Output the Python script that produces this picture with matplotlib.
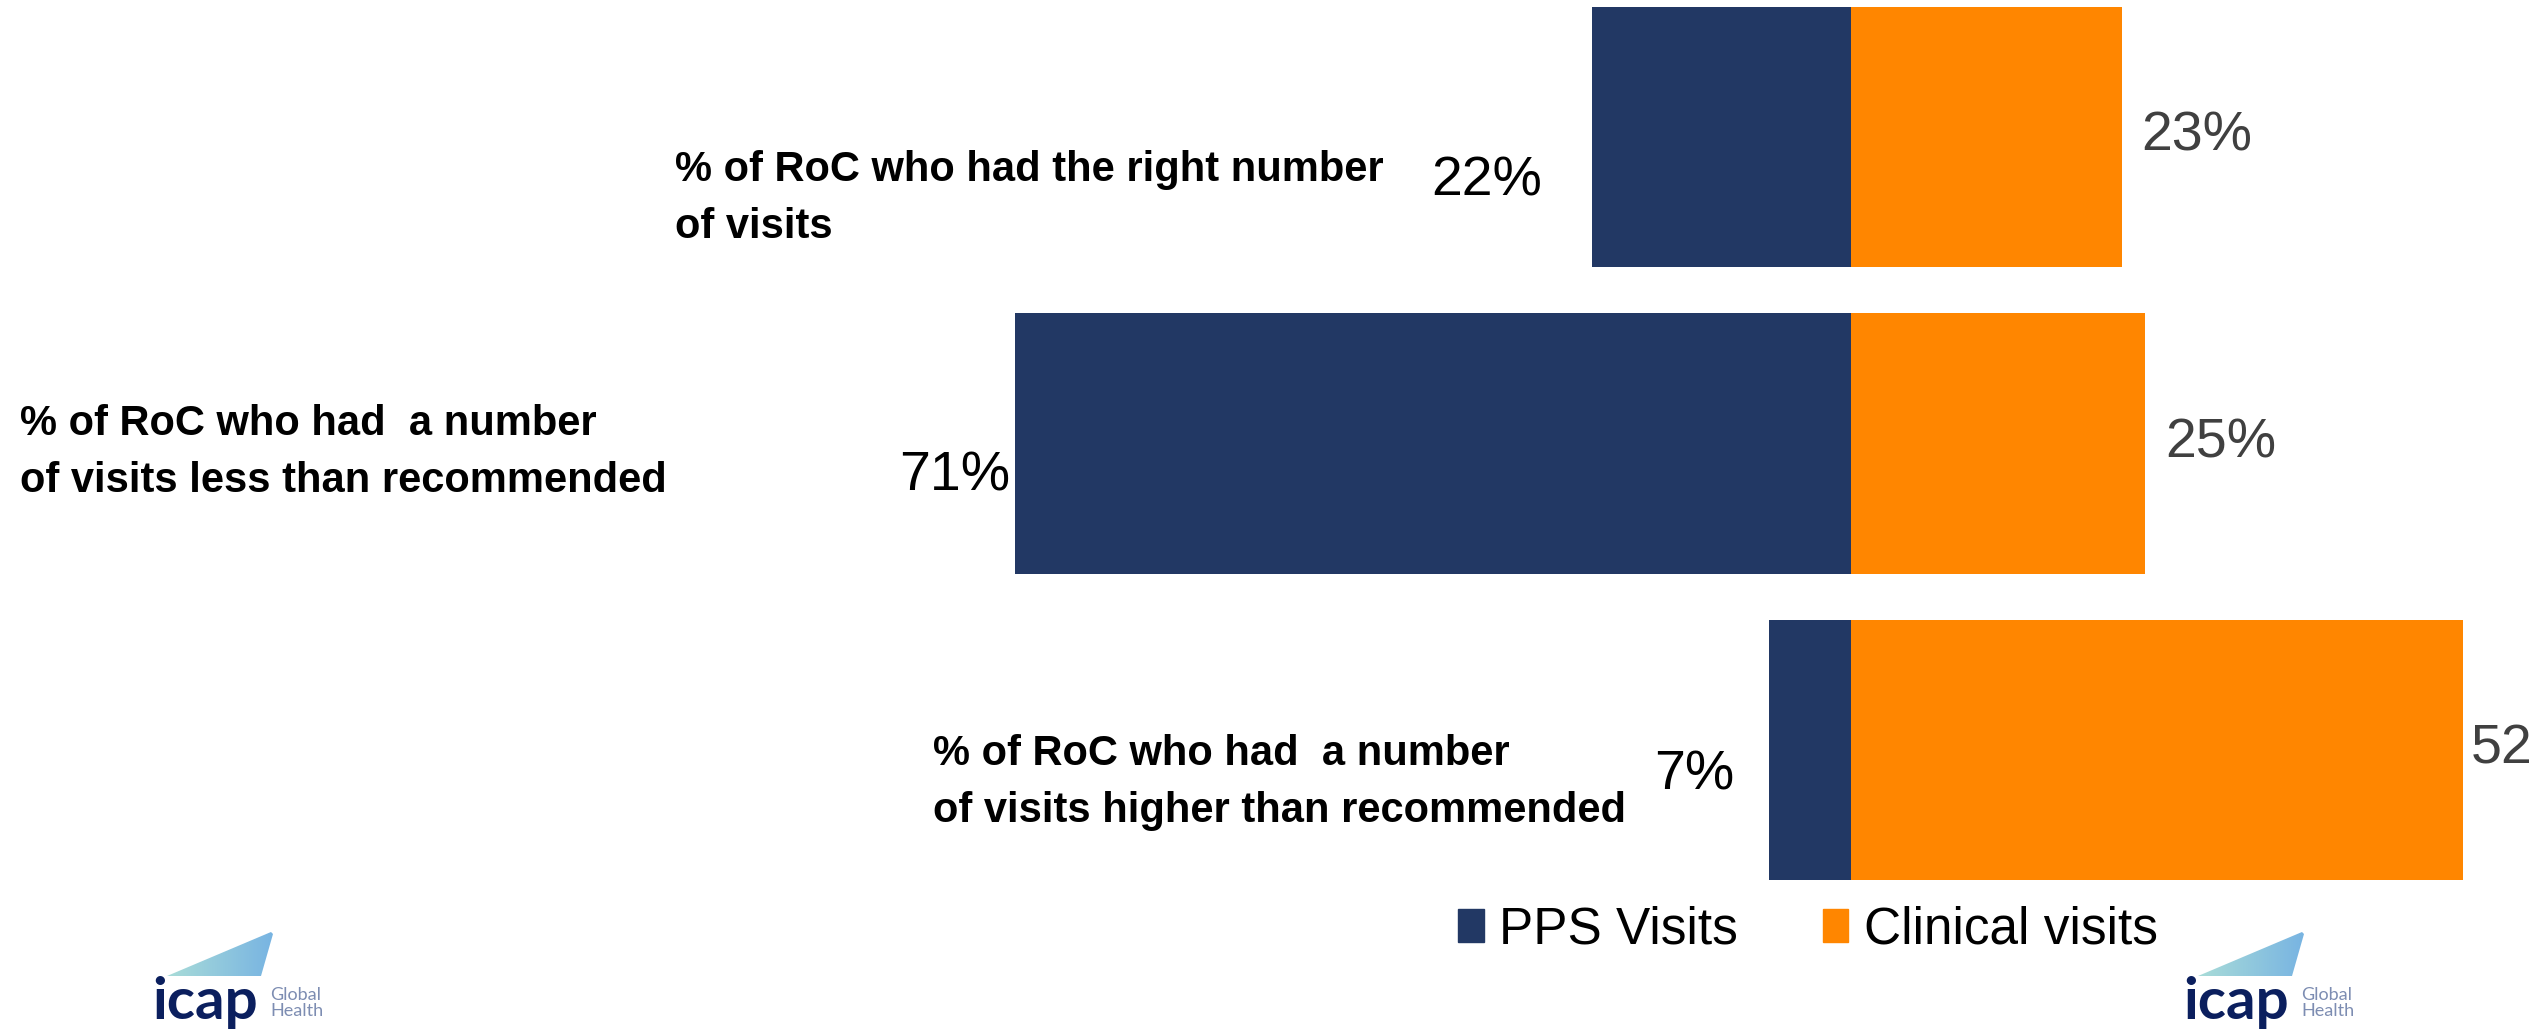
import numpy as np
import matplotlib
matplotlib.use("Agg")
import matplotlib.pyplot as plt
from matplotlib import font_manager
from matplotlib.patches import Patch, Polygon

# ---- data ----
categories = [
    "% of RoC who had the right number\nof visits",
    "% of RoC who had  a number\nof visits less than recommended",
    "% of RoC who had  a number\nof visits higher than recommended",
]
pps_visits = [22, 71, 7]
clinical_visits = [23, 25, 52]
series_names = ["PPS Visits", "Clinical visits"]

NAVY = "#223864"
ORANGE = "#FF8600"
W, H = 2532, 1029

names = {f.name for f in font_manager.fontManager.ttflist}
narrow = "Liberation Sans Narrow" if "Liberation Sans Narrow" in names else "Liberation Sans"
logo_font = "Lato" if "Lato" in names else "DejaVu Sans"

fig = plt.figure(figsize=(W / 100, H / 100), dpi=100)
fig.patch.set_facecolor("white")

# main axes spans the whole figure; x in percent, y in category index
ax = fig.add_axes([0, 0, 1, 1])
px_per_pct = 11.77
zero_px = 1851
ax.set_xlim(-zero_px / px_per_pct, (W - zero_px) / px_per_pct)
row_px, first_px = 306.5, 137
ax.set_ylim((H - first_px) / row_px, -first_px / row_px)
ax.axis("off")

y = np.arange(len(categories))
ax.barh(y, [-v for v in pps_visits], height=0.85, color=NAVY)
ax.barh(y, clinical_visits, height=0.85, color=ORANGE)

# value labels (PowerPoint-style manual placement)
pps_pad = [50, 5, 34]
pps_drop = [45, 33, 26]
for i, v in enumerate(pps_visits):
    ax.annotate(f"{v}%", xy=(-v, i), xytext=(-pps_pad[i], -pps_drop[i]),
                textcoords="offset pixels", ha="right", va="center",
                fontsize=40, family=narrow, color="black")
clin_pad = [20, 20, 8]
for i, v in enumerate(clinical_visits):
    ax.annotate(f"{v}%", xy=(v, i), xytext=(clin_pad[i], 0),
                textcoords="offset pixels", ha="left", va="center",
                fontsize=40, family=narrow, color="#404040",
                annotation_clip=False)

# category labels
label_x = [-99.9, -155.6, -78.0]
label_dy = [0.2, 0.03, 0.105]
for i, txt in enumerate(categories):
    ax.text(label_x[i], i + label_dy[i], txt, ha="left", va="center",
            fontsize=30, fontweight="bold", family=narrow,
            linespacing=1.55, color="black")

# legend
handles = [Patch(color=NAVY), Patch(color=ORANGE)]
fig.legend(handles, series_names, ncol=2, loc="center",
           bbox_to_anchor=(0.714, 0.096), frameon=False,
           handlelength=0.5, handleheight=0.6, handletextpad=0.3,
           columnspacing=1.65, prop={"family": narrow, "size": 37})

# overlay in pixel coordinates for the logos
ov = fig.add_axes([0, 0, 1, 1], facecolor="none")
ov.axis("off")


def draw_logo(x0):
    tri = Polygon([(x0 + 15, 976), (x0 + 119, 932), (x0 + 121, 934),
                   (x0 + 109, 976)], closed=True, facecolor="none",
                  edgecolor="none")
    ov.add_patch(tri)
    grad = np.linspace(0, 1, 256).reshape(1, -1)
    cmap = matplotlib.colors.LinearSegmentedColormap.from_list(
        "logo", ["#a9dcd8", "#78b4e2"])
    im = ov.imshow(grad, cmap=cmap, extent=(x0 + 15, x0 + 121, 976, 932),
                   aspect="auto", zorder=2)
    im.set_clip_path(tri)
    ov.text(x0, 1019, "icap", ha="left", va="baseline", fontsize=42,
            fontweight="bold", family=logo_font, color="#0b1f5e", zorder=3)
    ov.text(x0 + 118, 1003, "Global\nHealth", ha="left", va="center",
            fontsize=13, family=logo_font, color="#7d8db2",
            linespacing=0.95, zorder=3)


draw_logo(152)
draw_logo(2183)
ov.set_xlim(0, W)
ov.set_ylim(H, 0)

fig.savefig("out.png", dpi=100, facecolor="white")
